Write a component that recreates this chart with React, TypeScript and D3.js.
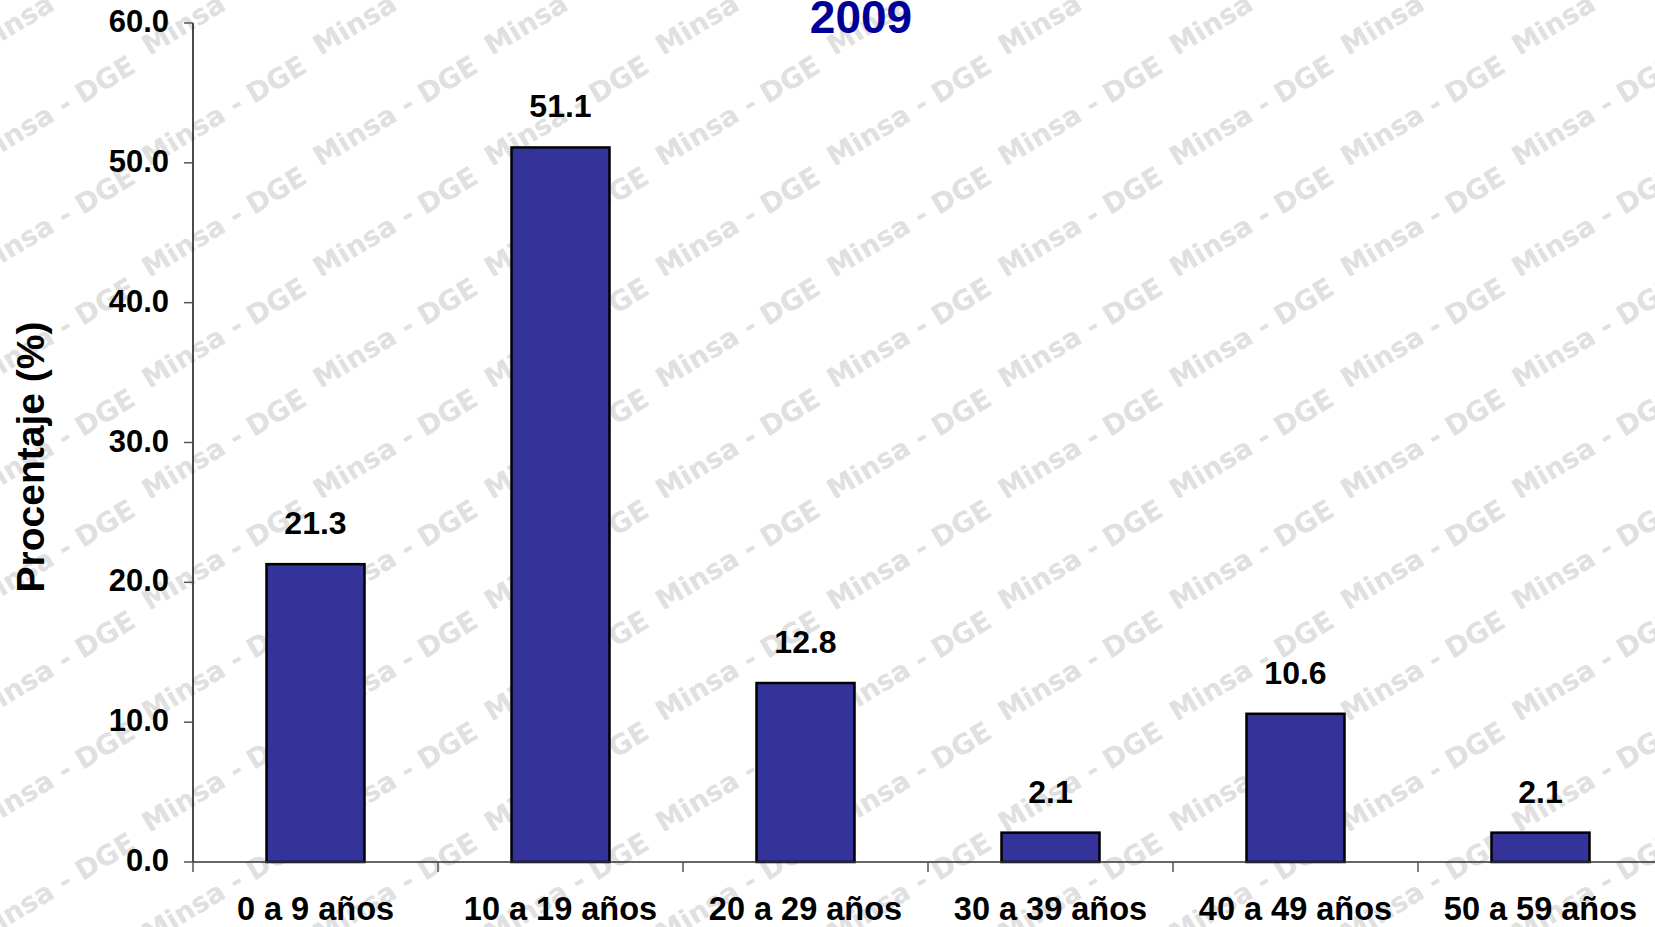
import React from "react";
import * as d3 from "d3";

const categories = [
    "0 a 9 años",
    "10 a 19 años",
    "20 a 29 años",
    "30 a 39 años",
    "40 a 49 años",
    "50 a 59 años",
];
const percentages = [21.3, 51.1, 12.8, 2.1, 10.6, 2.1];
const yTicks = [0, 10, 20, 30, 40, 50, 60];
const chartTitle = "2009";
const yAxisTitle = "Procentaje (%)";
const watermark = "Minsa - DGE";

const W = 1655;
const H = 927;

const App: React.FC = () => {
    // plot box
    const x = d3
        .scaleBand()
        .domain(categories)
        .range([193, 1663])
        .paddingInner(0.6)
        .paddingOuter(0.3);
    const y = d3.scaleLinear().domain([0, 60]).range([862, 23]);
    const fmt = d3.format(".1f");
    const font = "'Liberation Sans', Arial, sans-serif";

    // watermark grid: each row is cut flat at its bottom edge
    const rowStep = 111;
    const colStep = 171.25;
    const rows = d3.range(-2, 9).map((j) => 165 + rowStep * j);
    const cols = d3.range(-5, 7).map((k) => 663 + colStep * k);

    const step = x.step();
    const bandEdges = d3.range(categories.length + 1).map((i) => 193 + i * step);

    return (
        <svg
            width={W}
            height={H}
            style={{ position: "absolute", left: 0, top: 0, background: "#fff" }}
        >
            <defs>
                {rows.map((r, i) => (
                    <clipPath id={`wm-row-${i}`} key={i}>
                        <rect x={-50} y={r - 150} width={W + 100} height={150} />
                    </clipPath>
                ))}
            </defs>

            {/* watermark */}
            <g
                fill="#e0e0e0"
                fontFamily="'DejaVu Sans', Verdana, sans-serif"
                fontWeight="bold"
                fontSize={27.5}
            >
                {rows.map((r, i) => (
                    <g key={i} clipPath={`url(#wm-row-${i})`}>
                        {cols.map((c, k) => (
                            <text key={k} transform={`translate(${c},${r + 2}) rotate(-31)`}>
                                {watermark}
                            </text>
                        ))}
                    </g>
                ))}
            </g>

            {/* bars */}
            {categories.map((c, i) => (
                <rect
                    key={c}
                    x={x(c)}
                    y={y(percentages[i])}
                    width={x.bandwidth()}
                    height={y(0) - y(percentages[i])}
                    fill="#333399"
                    stroke="#000"
                    strokeWidth={2.5}
                />
            ))}

            {/* y axis */}
            <line x1={193} x2={193} y1={y(60)} y2={y(0)} stroke="#111" strokeWidth={1.5} />
            {yTicks.map((t) => (
                <g key={t}>
                    <line x1={184} x2={193} y1={y(t)} y2={y(t)} stroke="#555" strokeWidth={1.5} />
                    <text
                        x={169}
                        y={y(t) + 9}
                        textAnchor="end"
                        fontFamily={font}
                        fontWeight="bold"
                        fontSize={31}
                    >
                        {fmt(t)}
                    </text>
                </g>
            ))}

            {/* x axis */}
            <line x1={193} x2={W} y1={y(0)} y2={y(0)} stroke="#333" strokeWidth={1.5} />
            {bandEdges.map((e, i) => (
                <line key={i} x1={e} x2={e} y1={y(0)} y2={y(0) + 10} stroke="#555" strokeWidth={1.5} />
            ))}
            {categories.map((c) => (
                <text
                    key={c}
                    x={(x(c) || 0) + x.bandwidth() / 2}
                    y={920}
                    textAnchor="middle"
                    fontFamily={font}
                    fontWeight="bold"
                    fontSize={32.5}
                >
                    {c}
                </text>
            ))}

            {/* value labels */}
            {categories.map((c, i) => (
                <text
                    key={c}
                    x={(x(c) || 0) + x.bandwidth() / 2}
                    y={y(percentages[i]) - 30}
                    textAnchor="middle"
                    fontFamily={font}
                    fontWeight="bold"
                    fontSize={32}
                >
                    {fmt(percentages[i])}
                </text>
            ))}

            {/* titles */}
            <text
                x={861}
                y={33}
                textAnchor="middle"
                fontFamily={font}
                fontWeight="bold"
                fontSize={46}
                fill="#000099"
            >
                {chartTitle}
            </text>
            <text
                transform="translate(44,457) rotate(-90)"
                textAnchor="middle"
                fontFamily={font}
                fontWeight="bold"
                fontSize={39}
            >
                {yAxisTitle}
            </text>
        </svg>
    );
};

export default App;
